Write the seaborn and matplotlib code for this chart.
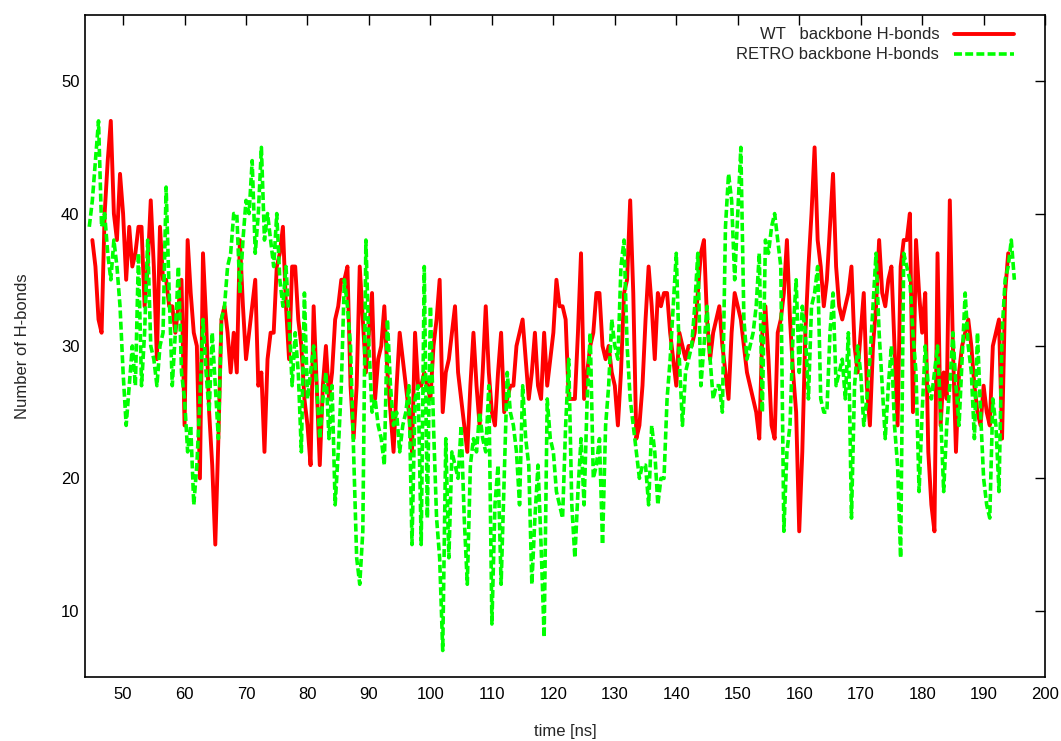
import numpy as np
import pandas as pd
import matplotlib
matplotlib.use('Agg')
import matplotlib.pyplot as plt
import seaborn as sns

wt_start = 45.0
wt_hbonds = [
    38, 36, 32, 31, 40, 44, 47, 40, 38, 43, 40, 35, 39, 36, 37, 39, 39, 33, 36, 41,
    36, 29, 39, 35, 35, 33, 33, 31, 33, 35, 24, 38, 34, 31, 30, 20, 37, 32, 25, 21,
    15, 23, 32, 33, 31, 28, 31, 28, 38, 33, 29, 31, 33, 35, 27, 28, 22, 29, 31, 31,
    36, 37, 39, 33, 29, 36, 36, 32, 30, 26, 24, 21, 33, 27, 21, 27, 30, 26, 28, 32,
    33, 35, 35, 36, 27, 23, 27, 36, 32, 28, 31, 34, 26, 29, 30, 33, 28, 25, 22, 27,
    31, 29, 27, 25, 22, 31, 27, 27, 28, 27, 26, 30, 32, 35, 25, 28, 29, 31, 33, 28,
    26, 24, 22, 27, 31, 27, 24, 28, 33, 28, 25, 24, 28, 31, 25, 26, 27, 27, 30, 31,
    32, 29, 26, 28, 31, 27, 26, 31, 27, 29, 31, 35, 33, 33, 32, 26, 26, 26, 31, 37,
    26, 28, 30, 31, 34, 34, 30, 29, 30, 28, 27, 24, 28, 34, 35, 41, 34, 23, 24, 27,
    32, 36, 33, 29, 34, 33, 34, 34, 31, 29, 27, 31, 30, 29, 30, 30, 31, 34, 37, 38,
    32, 29, 31, 32, 33, 30, 28, 26, 31, 34, 33, 32, 30, 28, 27, 26, 25, 23, 31, 33,
    29, 24, 23, 31, 32, 34, 38, 32, 28, 25, 16, 22, 31, 36, 40, 45, 38, 36, 33, 35,
    39, 43, 36, 33, 32, 33, 34, 36, 30, 28, 31, 34, 27, 24, 30, 33, 38, 34, 33, 35,
    36, 30, 24, 36, 38, 38, 40, 25, 38, 34, 31, 34, 22, 18, 16, 37, 24, 28, 26, 41,
    30, 22, 28, 30, 31, 32, 30, 27, 25, 24, 27, 25, 24, 30, 31, 32, 23, 34, 37,
]

retro_start = 44.5
retro_hbonds = [
    39, 41, 44, 47, 39, 40, 37, 35, 38, 36, 33, 28, 24, 27, 30, 27, 37, 27, 31, 38,
    30, 29, 27, 30, 31, 42, 34, 27, 31, 36, 28, 26, 22, 24, 18, 21, 26, 32, 28, 25,
    31, 27, 23, 32, 33, 36, 37, 40, 40, 34, 38, 41, 40, 44, 37, 40, 45, 38, 40, 38,
    36, 40, 35, 33, 36, 32, 27, 31, 28, 22, 34, 26, 28, 30, 27, 23, 26, 28, 23, 27,
    18, 22, 27, 35, 33, 30, 22, 14, 12, 16, 38, 30, 25, 26, 24, 23, 21, 32, 27, 24,
    25, 22, 24, 25, 27, 15, 26, 27, 15, 36, 17, 33, 24, 17, 14, 7, 23, 14, 22, 21,
    20, 24, 17, 12, 21, 23, 22, 25, 23, 22, 27, 9, 18, 21, 12, 20, 28, 25, 24, 22,
    18, 27, 23, 21, 12, 17, 21, 15, 8, 26, 23, 22, 19, 18, 17, 24, 29, 18, 14, 19,
    23, 18, 26, 31, 20, 21, 23, 15, 24, 27, 32, 30, 29, 36, 38, 30, 26, 24, 22, 20,
    21, 21, 18, 24, 22, 18, 20, 20, 26, 29, 33, 37, 29, 24, 28, 29, 30, 33, 37, 27,
    30, 33, 29, 26, 27, 27, 25, 39, 43, 41, 35, 40, 45, 32, 29, 30, 31, 33, 37, 25,
    38, 37, 39, 40, 38, 36, 16, 22, 24, 31, 35, 28, 33, 31, 26, 33, 34, 36, 26, 25,
    25, 31, 34, 27, 28, 29, 26, 31, 17, 27, 30, 28, 24, 26, 29, 33, 37, 31, 27, 23,
    27, 30, 24, 21, 14, 37, 36, 35, 31, 28, 19, 25, 30, 27, 26, 28, 30, 25, 19, 24,
    27, 31, 27, 24, 29, 34, 30, 28, 23, 31, 25, 20, 18, 17, 26, 24, 19, 31, 35, 36,
    38, 35,
]

wt = pd.DataFrame({'time': wt_start + 0.5 * np.arange(len(wt_hbonds)),
                   'hbonds': wt_hbonds})
retro = pd.DataFrame({'time': retro_start + 0.5 * np.arange(len(retro_hbonds)),
                      'hbonds': retro_hbonds})

sns.set_style('white')
plt.rcParams['font.family'] = ['Liberation Sans', 'DejaVu Sans']

fig = plt.figure(figsize=(10.61, 7.41), dpi=100)
ax = fig.add_axes([0.0801, 0.0864, 0.9049, 0.8934])

sns.lineplot(data=wt, x='time', y='hbonds', color='#ff0000', lw=2.8,
             label='WT   backbone H-bonds', ax=ax)
sns.lineplot(data=retro, x='time', y='hbonds', color='#00ff00', lw=2.6,
             linestyle=(0, (2.2, 0.9)), dash_capstyle='butt',
             label='RETRO backbone H-bonds', ax=ax)

ax.set_xlim(43.8, 200)
ax.set_ylim(5, 55)
ax.set_xticks(range(50, 201, 10))
ax.set_yticks(range(10, 51, 10))
ax.tick_params(direction='in', length=7, width=1, top=True, right=True,
               labelsize=12, colors='black')
ax.tick_params(axis='x', pad=7)
ax.tick_params(axis='y', pad=4)
for s in ax.spines.values():
    s.set_color('black')
    s.set_linewidth(1.2)

ax.set_xlabel('time [ns]', fontsize=12, labelpad=16)
ax.set_ylabel('Number of H-bonds', fontsize=12, labelpad=22)

# markerfirst=False right-aligns the rows, so the label texts end together
ax.legend(loc='upper right', bbox_to_anchor=(0.981, 1.0), frameon=False,
          markerfirst=False, fontsize=12, handlelength=3.6, handletextpad=0.9,
          borderaxespad=0.35, labelspacing=0.3)

fig.savefig('out.png', dpi=100)
